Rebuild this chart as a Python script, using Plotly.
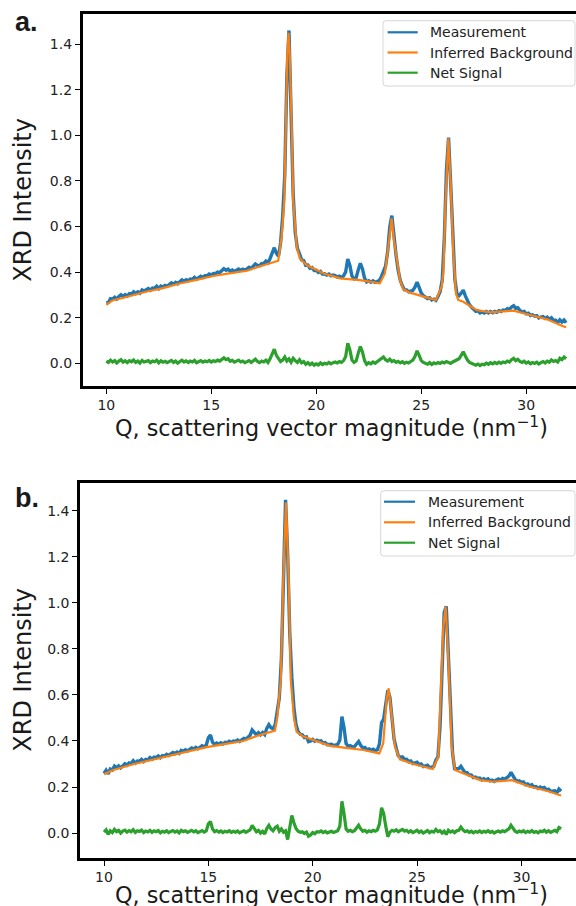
import numpy as np
import plotly.graph_objects as go

# ---------------- data ----------------
# Q grid (nm^-1) shared by measurement and net signal, 10.0 ... 31.9
q_grid = np.round(np.arange(10.0, 31.95, 0.1), 1)

meas_a = [
    0.266, 0.267, 0.284, 0.282, 0.290, 0.282, 0.293, 0.301, 0.292, 0.301,
    0.295, 0.306, 0.304, 0.314, 0.306, 0.314, 0.308, 0.322, 0.317, 0.323,
    0.328, 0.321, 0.330, 0.329, 0.338, 0.328, 0.339, 0.335, 0.342, 0.338,
    0.346, 0.353, 0.347, 0.355, 0.349, 0.359, 0.366, 0.360, 0.367, 0.362,
    0.370, 0.368, 0.377, 0.369, 0.377, 0.382, 0.377, 0.384, 0.384, 0.392,
    0.387, 0.394, 0.393, 0.400, 0.398, 0.407, 0.415, 0.408, 0.413, 0.404,
    0.409, 0.403, 0.410, 0.414, 0.408, 0.413, 0.408, 0.415, 0.421, 0.416,
    0.427, 0.436, 0.430, 0.428, 0.438, 0.437, 0.448, 0.441, 0.460, 0.488,
    0.507, 0.483, 0.470, 0.528, 0.644, 0.828, 1.260, 1.460, 1.155, 0.742,
    0.572, 0.504, 0.481, 0.454, 0.451, 0.430, 0.431, 0.417, 0.420, 0.407,
    0.408, 0.399, 0.403, 0.391, 0.393, 0.387, 0.392, 0.384, 0.387, 0.385,
    0.378, 0.382, 0.377, 0.384, 0.401, 0.458, 0.429, 0.383, 0.371, 0.376,
    0.410, 0.439, 0.414, 0.374, 0.357, 0.362, 0.356, 0.362, 0.355, 0.361,
    0.363, 0.380, 0.408, 0.426, 0.490, 0.598, 0.648, 0.552, 0.474, 0.409,
    0.364, 0.340, 0.322, 0.322, 0.314, 0.317, 0.320, 0.334, 0.356, 0.333,
    0.308, 0.297, 0.290, 0.284, 0.288, 0.278, 0.282, 0.276, 0.294, 0.315,
    0.366, 0.552, 0.848, 0.990, 0.790, 0.546, 0.370, 0.304, 0.297, 0.308,
    0.321, 0.296, 0.272, 0.256, 0.246, 0.236, 0.228, 0.230, 0.221, 0.225,
    0.221, 0.227, 0.221, 0.227, 0.222, 0.228, 0.224, 0.231, 0.227, 0.234,
    0.232, 0.240, 0.236, 0.247, 0.253, 0.241, 0.244, 0.232, 0.225, 0.228,
    0.217, 0.220, 0.210, 0.213, 0.207, 0.209, 0.199, 0.203, 0.205, 0.197,
    0.203, 0.194, 0.200, 0.189, 0.189, 0.179, 0.191, 0.181, 0.190, 0.178,
]

net_a = [
    0.010, 0.004, 0.014, 0.006, 0.012, 0.002, 0.010, 0.016, 0.005, 0.011,
    0.003, 0.012, 0.007, 0.015, 0.004, 0.010, 0.001, 0.013, 0.006, 0.009,
    0.012, 0.003, 0.010, 0.007, 0.014, 0.002, 0.011, 0.005, 0.009, 0.003,
    0.008, 0.013, 0.004, 0.010, 0.001, 0.009, 0.014, 0.006, 0.011, 0.004,
    0.010, 0.006, 0.013, 0.003, 0.009, 0.012, 0.005, 0.010, 0.007, 0.013,
    0.006, 0.011, 0.008, 0.014, 0.010, 0.018, 0.024, 0.016, 0.020, 0.009,
    0.013, 0.005, 0.011, 0.014, 0.006, 0.010, 0.003, 0.009, 0.012, 0.004,
    0.012, 0.018, 0.008, 0.003, 0.010, 0.006, 0.014, 0.004, 0.020, 0.045,
    0.062, 0.035, 0.018, 0.008, 0.014, 0.028, 0.010, 0.020, 0.005, 0.022,
    0.012, 0.004, 0.016, 0.002, 0.008, -0.004, 0.003, -0.006, 0.001, -0.008,
    -0.002, -0.007, 0.002, -0.005, 0.000, -0.003, 0.004, -0.002, 0.003, 0.006,
    0.002, 0.008, 0.004, 0.012, 0.030, 0.088, 0.060, 0.015, 0.004, 0.010,
    0.045, 0.074, 0.050, 0.012, -0.004, 0.003, -0.002, 0.006, 0.000, 0.008,
    0.012, 0.020, 0.028, 0.016, 0.010, 0.018, 0.008, 0.012, 0.004, 0.009,
    0.002, 0.007, 0.000, 0.005, 0.002, 0.008, 0.014, 0.030, 0.055, 0.035,
    0.012, 0.004, 0.000, -0.004, 0.003, -0.005, 0.002, -0.002, 0.004, 0.000,
    0.006, 0.002, 0.008, 0.003, 0.000, 0.006, 0.010, 0.014, 0.020, 0.035,
    0.051, 0.032, 0.014, 0.004, 0.000, -0.005, -0.008, -0.003, -0.010, -0.004,
    -0.006, 0.001, -0.004, 0.003, -0.002, 0.004, -0.001, 0.005, 0.000, 0.006,
    0.003, 0.010, 0.006, 0.016, 0.022, 0.012, 0.018, 0.008, 0.004, 0.009,
    0.001, 0.006, -0.002, 0.004, 0.000, 0.005, -0.003, 0.003, 0.008, 0.002,
    0.010, 0.005, 0.015, 0.008, 0.012, 0.006, 0.022, 0.016, 0.028, 0.020,
]

bg_a_q = [10.0, 10.3, 11.0, 11.9, 12.7, 13.5, 14.3, 15.1, 15.7, 16.7, 17.3, 17.8,
          18.19, 18.35, 18.43, 18.48, 18.54, 18.62, 18.68, 18.74, 18.84, 18.90,
          19.07, 19.22, 19.54, 20.33, 21.13, 22.08, 23.03, 23.27, 23.43, 23.59,
          23.70, 23.83, 23.99, 24.14, 24.46, 25.41, 25.70, 25.97, 26.05, 26.16,
          26.29, 26.40, 26.52, 26.65, 26.76, 27.0, 27.63, 28.27, 29.39, 30.18,
          30.99, 31.73, 31.9]
bg_a = [0.256, 0.276, 0.292, 0.314, 0.330, 0.350, 0.366, 0.383, 0.392, 0.406, 0.425, 0.440,
        0.450, 0.555, 0.672, 0.716, 1.0, 1.35, 1.45, 1.35, 1.0, 0.716,
        0.51, 0.46, 0.431, 0.395, 0.373, 0.365, 0.351, 0.395, 0.51, 0.636,
        0.54, 0.453, 0.365, 0.325, 0.31, 0.285, 0.278, 0.336, 0.395, 0.716,
        0.987, 0.79, 0.497, 0.307, 0.278, 0.27, 0.234, 0.224, 0.231, 0.212,
        0.193, 0.164, 0.158]

meas_b = [
    0.259, 0.273, 0.257, 0.278, 0.274, 0.291, 0.284, 0.292, 0.283, 0.295,
    0.301, 0.295, 0.305, 0.302, 0.314, 0.304, 0.313, 0.312, 0.320, 0.311,
    0.320, 0.318, 0.328, 0.321, 0.330, 0.328, 0.335, 0.327, 0.336, 0.334,
    0.342, 0.337, 0.344, 0.350, 0.345, 0.352, 0.346, 0.359, 0.355, 0.362,
    0.357, 0.364, 0.370, 0.365, 0.372, 0.366, 0.373, 0.379, 0.375, 0.382,
    0.414, 0.426, 0.395, 0.385, 0.391, 0.386, 0.392, 0.387, 0.394, 0.393,
    0.399, 0.394, 0.400, 0.398, 0.404, 0.398, 0.405, 0.411, 0.408, 0.416,
    0.425, 0.448, 0.438, 0.427, 0.436, 0.427, 0.437, 0.428, 0.455, 0.471,
    0.458, 0.453, 0.470, 0.530, 0.588, 0.758, 1.134, 1.448, 1.212, 0.870,
    0.676, 0.545, 0.470, 0.441, 0.429, 0.427, 0.415, 0.418, 0.397, 0.400,
    0.407, 0.399, 0.404, 0.399, 0.401, 0.391, 0.393, 0.384, 0.385, 0.386,
    0.380, 0.382, 0.385, 0.404, 0.506, 0.457, 0.389, 0.377, 0.380, 0.373,
    0.376, 0.387, 0.398, 0.381, 0.369, 0.372, 0.362, 0.366, 0.360, 0.364,
    0.358, 0.362, 0.388, 0.480, 0.495, 0.560, 0.620, 0.590, 0.512, 0.408,
    0.370, 0.336, 0.329, 0.331, 0.320, 0.321, 0.310, 0.313, 0.302, 0.306,
    0.308, 0.297, 0.300, 0.289, 0.293, 0.295, 0.284, 0.288, 0.289, 0.316,
    0.331, 0.460, 0.740, 0.958, 0.985, 0.762, 0.504, 0.349, 0.280, 0.280,
    0.280, 0.290, 0.274, 0.262, 0.262, 0.251, 0.252, 0.241, 0.243, 0.237,
    0.239, 0.231, 0.236, 0.231, 0.236, 0.227, 0.230, 0.224, 0.231, 0.235,
    0.230, 0.237, 0.234, 0.241, 0.247, 0.264, 0.248, 0.233, 0.224, 0.227,
    0.220, 0.222, 0.210, 0.213, 0.205, 0.210, 0.200, 0.202, 0.194, 0.200,
    0.195, 0.198, 0.188, 0.191, 0.181, 0.183, 0.184, 0.175, 0.191, 0.182,
]

net_b = [
    0.004, 0.014, -0.006, 0.010, 0.002, 0.016, 0.006, 0.012, 0.000, 0.009,
    0.013, 0.004, 0.011, 0.006, 0.015, 0.003, 0.010, 0.007, 0.013, 0.002,
    0.009, 0.005, 0.012, 0.003, 0.010, 0.006, 0.011, 0.001, 0.008, 0.004,
    0.010, 0.002, 0.007, 0.011, 0.004, 0.009, 0.001, 0.012, 0.006, 0.010,
    0.003, 0.008, 0.012, 0.005, 0.010, 0.002, 0.007, 0.011, 0.004, 0.009,
    0.040, 0.050, 0.018, 0.006, 0.011, 0.004, 0.009, 0.002, 0.008, 0.005,
    0.010, 0.003, 0.008, 0.004, 0.009, 0.001, 0.006, 0.010, 0.003, 0.008,
    0.014, 0.033, 0.020, 0.006, 0.012, 0.000, 0.008, -0.004, 0.020, 0.034,
    0.018, 0.010, 0.024, 0.030, 0.008, 0.018, 0.004, 0.010, -0.028, 0.020,
    0.076, 0.045, 0.020, 0.008, 0.003, 0.006, -0.002, 0.004, -0.014, -0.008,
    0.002, -0.003, 0.006, 0.004, 0.009, 0.002, 0.007, 0.001, 0.005, 0.008,
    0.003, 0.006, 0.010, 0.030, 0.138, 0.085, 0.018, 0.008, 0.012, 0.006,
    0.010, 0.022, 0.034, 0.018, 0.008, 0.012, 0.004, 0.010, 0.006, 0.012,
    0.008, 0.014, 0.040, 0.110, 0.085, 0.030, -0.016, 0.004, 0.012, 0.008,
    0.014, 0.006, 0.010, 0.016, 0.008, 0.012, 0.004, 0.010, 0.002, 0.008,
    0.012, 0.003, 0.009, 0.000, 0.006, 0.011, 0.002, 0.008, 0.004, 0.016,
    0.006, 0.010, 0.000, 0.008, -0.006, 0.012, 0.004, 0.009, 0.002, 0.010,
    0.012, 0.026, 0.014, 0.006, 0.010, 0.003, 0.008, 0.001, 0.007, 0.004,
    0.009, 0.002, 0.008, 0.004, 0.010, 0.003, 0.007, 0.000, 0.006, 0.009,
    0.004, 0.010, 0.006, 0.012, 0.018, 0.034, 0.020, 0.008, 0.003, 0.009,
    0.005, 0.010, 0.002, 0.008, 0.004, 0.011, 0.003, 0.007, 0.001, 0.009,
    0.006, 0.012, 0.004, 0.010, 0.003, 0.008, 0.012, 0.006, 0.024, 0.018,
]

bg_b_q = [10.0, 10.45, 11.4, 12.84, 13.64, 14.92, 15.56, 16.67, 17.32, 18.19,
          18.30, 18.47, 18.59, 18.72, 18.85, 18.95, 19.10, 19.23, 19.55, 20.03,
          20.83, 21.79, 22.43, 23.19, 23.38, 23.54, 23.64, 23.79, 23.94, 24.18,
          24.82, 25.75, 26.02, 26.26, 26.37, 26.50, 26.66, 26.82, 27.22, 28.02,
          28.65, 29.54, 30.41, 31.21, 31.9]
bg_b = [0.255, 0.274, 0.299, 0.329, 0.346, 0.373, 0.383, 0.400, 0.422, 0.445,
        0.50, 0.665, 1.10, 1.436, 1.10, 0.665, 0.50, 0.44, 0.419, 0.404,
        0.379, 0.368, 0.361, 0.346, 0.39, 0.578, 0.629, 0.506, 0.375, 0.32,
        0.30, 0.278, 0.332, 0.897, 0.984, 0.752, 0.375, 0.274, 0.26, 0.23,
        0.223, 0.23, 0.201, 0.184, 0.163]

series_names = ["Measurement", "Inferred Background", "Net Signal"]
colors = ["#1f77b4", "#ff7f0e", "#2ca02c"]
x_ticks = [10, 15, 20, 25, 30]
y_ticks = [0.0, 0.2, 0.4, 0.6, 0.8, 1.0, 1.2, 1.4]
x_title = "Q, scattering vector magnitude (nm<sup>\u22121</sup>)"
y_title = "XRD Intensity"
panel_labels = ["a.", "b."]

# ---------------- figure ----------------
W, H = 576, 906
fig = go.Figure()


def px_x(p):
    return p / W


def px_y(p):
    return 1 - p / H


panels = [
    dict(q=q_grid, meas=meas_a, bgq=bg_a_q, bg=bg_a, net=net_a, xa="x", ya="y"),
    dict(q=q_grid, meas=meas_b, bgq=bg_b_q, bg=bg_b, net=net_b, xa="x2", ya="y2"),
]
widths = [3.4, 2.2, 3.2]
for p in panels:
    fig.add_trace(go.Scatter(x=p["q"], y=p["meas"], mode="lines", name=series_names[0],
                             line=dict(color=colors[0], width=widths[0]),
                             xaxis=p["xa"], yaxis=p["ya"], showlegend=False))
    fig.add_trace(go.Scatter(x=p["bgq"], y=p["bg"], mode="lines", name=series_names[1],
                             line=dict(color=colors[1], width=widths[1]),
                             xaxis=p["xa"], yaxis=p["ya"], showlegend=False))
    fig.add_trace(go.Scatter(x=p["q"], y=p["net"], mode="lines", name=series_names[2],
                             line=dict(color=colors[2], width=widths[2]),
                             xaxis=p["xa"], yaxis=p["ya"], showlegend=False))

tickfont = dict(family="DejaVu Sans", size=14, color="#222222")
axis_common = dict(showgrid=False, zeroline=False, showline=True, linecolor="black",
                   linewidth=2.6, ticks="outside", ticklen=5, tickwidth=1.4,
                   tickcolor="black", tickfont=tickfont)

fig.update_layout(
    width=W, height=H, margin=dict(l=0, r=0, t=0, b=0),
    paper_bgcolor="white", plot_bgcolor="white", showlegend=False,
    xaxis=dict(domain=[px_x(82.7), 1.0], range=[8.876, 32.37], anchor="y",
               tickvals=x_ticks, ticktext=[str(v) for v in x_ticks], mirror=True, **axis_common),
    yaxis=dict(domain=[px_y(385.7), px_y(14)], range=[-0.098, 1.532], anchor="x",
               tickvals=y_ticks, ticktext=[f"{v:.1f}" for v in y_ticks], **axis_common),
    xaxis2=dict(domain=[px_x(80), 1.0], range=[8.85, 32.616], anchor="y2",
                tickvals=x_ticks, ticktext=[str(v) for v in x_ticks], mirror=True, **axis_common),
    yaxis2=dict(domain=[px_y(857.7), px_y(482.7)], range=[-0.107, 1.522], anchor="x2",
                tickvals=y_ticks, ticktext=[f"{v:.1f}" for v in y_ticks], **axis_common),
)

# ---------------- legends (matplotlib-style boxes) ----------------
shapes = []
ann = []
legend_font = dict(family="DejaVu Sans", size=14, color="#222222")
legend_specs = [
    dict(box=(383.0, 20.7, 575.0, 86.0), line=(387.6, 417.7), text_x=428.3,
         rows=(32.3, 52.5, 72.7)),
    dict(box=(380.7, 490.7, 575.0, 556.0), line=(384.0, 415.0), text_x=425.7,
         rows=(501.7, 522.3, 542.7)),
]
for spec in legend_specs:
    x0, y0, x1, y1 = spec["box"]
    r = 3.0
    X = lambda v: f"{px_x(v):.6f}"
    Y = lambda v: f"{px_y(v):.6f}"
    path = (f"M {X(x0 + r)},{Y(y0)} L {X(x1 - r)},{Y(y0)} Q {X(x1)},{Y(y0)} {X(x1)},{Y(y0 + r)} "
            f"L {X(x1)},{Y(y1 - r)} Q {X(x1)},{Y(y1)} {X(x1 - r)},{Y(y1)} "
            f"L {X(x0 + r)},{Y(y1)} Q {X(x0)},{Y(y1)} {X(x0)},{Y(y1 - r)} "
            f"L {X(x0)},{Y(y0 + r)} Q {X(x0)},{Y(y0)} {X(x0 + r)},{Y(y0)} Z")
    shapes.append(dict(type="path", path=path, xref="paper", yref="paper", layer="above",
                       fillcolor="rgba(255,255,255,0.8)", line=dict(color="#d6d6d6", width=1)))
    for name, col, ry in zip(series_names, colors, spec["rows"]):
        shapes.append(dict(type="line", xref="paper", yref="paper", layer="above",
                           x0=px_x(spec["line"][0]), x1=px_x(spec["line"][1]),
                           y0=px_y(ry), y1=px_y(ry), line=dict(color=col, width=2.2)))
        ann.append(dict(text=name, x=px_x(spec["text_x"]), y=px_y(ry), xref="paper", yref="paper",
                        showarrow=False, xanchor="left", yanchor="middle", font=legend_font))

# ---------------- titles and panel labels ----------------
ytitle_font = dict(family="DejaVu Sans", size=24, color="#1a1a1a")
xtitle_font = dict(family="DejaVu Sans", size=22.3, color="#1a1a1a")
for cx, cy in [(22.7, 200), (22.7, 670)]:
    ann.append(dict(text=y_title, x=px_x(cx), y=px_y(cy), xref="paper", yref="paper",
                    textangle=-90, showarrow=False, font=ytitle_font,
                    xanchor="center", yanchor="middle"))
for cx, cy in [(331, 427), (331, 894)]:
    ann.append(dict(text=x_title, x=px_x(cx), y=px_y(cy), xref="paper", yref="paper",
                    showarrow=False, font=xtitle_font, xanchor="center", yanchor="middle"))
for lab, cy in zip(panel_labels, [22, 498]):
    ann.append(dict(text=f"<b>{lab}</b>", x=px_x(13), y=px_y(cy), xref="paper", yref="paper",
                    showarrow=False, xanchor="left", yanchor="middle",
                    font=dict(family="Liberation Sans", size=27, color="#1a1a1a")))
fig.update_layout(shapes=shapes, annotations=ann)

fig.write_html("out.html", config={"displayModeBar": False},
               post_script="document.body.style.margin='0px';document.body.style.overflow='hidden';")
